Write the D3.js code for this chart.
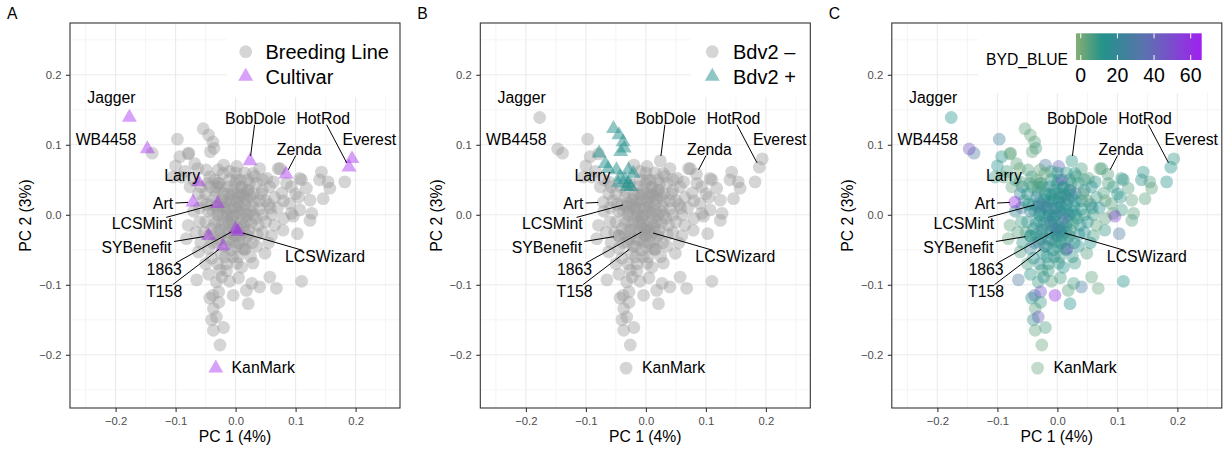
<!DOCTYPE html>
<html>
<head>
<meta charset="utf-8">
<script src="https://cdn.jsdelivr.net/npm/d3@7"></script>
<style>
  body { margin: 0; background: #ffffff; }
  svg { display: block; }
  text { font-family: "Liberation Sans", Arial, Helvetica, sans-serif; }
</style>
</head>
<body>
<svg id="fig" width="1225" height="451"></svg>
<script>
// ---------------------------------------------------------------
// PCA scores: [PC1, PC2, BYD_BLUE] for each breeding line, grouped
// by the region of the score plot they fall in.
// ---------------------------------------------------------------
const armUpperLeft = [
  [-0.139, 0.088, 30], [-0.097, 0.108, 25], [-0.093, 0.083, 12], [-0.079, 0.087, 5],
  [-0.100, 0.070, 15], [-0.104, 0.054, 8], [-0.090, 0.054, 4], [-0.084, 0.062, 6],
  [-0.076, 0.040, 3], [-0.070, 0.050, 9], [-0.058, 0.040, 14], [-0.062, 0.030, 20],
  [-0.050, 0.030, 12], [-0.079, -0.015, 3], [-0.082, -0.034, 2], [-0.070, 0.005, 18],
  [-0.060, 0.010, 28], [-0.055, 0.020, 10], [-0.020, 0.071, 30], [0.002, 0.069, 40],
  [0.002, 0.050, 8]
];
const armUpperRight = [
  [0.040, 0.066, 6], [0.029, 0.059, 12], [0.052, 0.052, 4], [0.063, 0.047, 10],
  [0.071, 0.066, 3], [0.057, 0.040, 14], [0.077, 0.031, 6], [0.093, 0.040, 9],
  [0.110, 0.050, 12], [0.118, 0.038, 5], [0.124, 0.021, 3], [0.107, 0.007, 8],
  [0.093, 0.002, 2], [0.127, 0.002, 4], [0.143, 0.061, 10], [0.140, 0.050, 14],
  [0.154, 0.047, 6], [0.157, 0.038, 3], [0.146, 0.023, 4], [0.182, 0.047, 13],
  [0.045, 0.035, 16], [0.065, 0.025, 8], [0.080, 0.020, 2], [0.090, 0.016, 5],
  [0.100, 0.030, 11], [0.070, 0.010, 15], [0.055, 0.015, 18], [0.035, 0.045, 9],
  [0.020, 0.050, 13], [0.030, 0.030, 28], [0.040, 0.020, 12], [0.060, 0.000, 7],
  [0.080, -0.005, 4], [0.105, 0.025, 10], [0.085, 0.045, 6], [0.096, -0.002, 52],
  [0.021, 0.035, 45], [0.074, 0.066, 5], [0.107, 0.052, 8]
];
const armLowerRight = [
  [0.124, -0.008, 5], [0.103, -0.027, 30], [0.079, -0.022, 9], [0.065, -0.015, 3],
  [0.050, -0.010, 12], [0.060, -0.030, 6], [0.045, -0.025, 15], [0.049, -0.055, 4],
  [0.029, -0.069, 8], [0.035, -0.045, 14], [0.057, -0.089, 3], [0.068, -0.105, 2],
  [0.110, -0.095, 12], [0.040, -0.103, 28], [0.027, -0.098, 6], [0.018, -0.108, 4],
  [0.021, -0.127, 12], [0.025, -0.060, 10], [0.015, -0.050, 14], [0.016, -0.048, 55]
];
const armLower = [
  [-0.062, -0.053, 5], [-0.065, -0.093, 30], [-0.043, -0.119, 12], [-0.037, -0.134, 4],
  [-0.040, -0.150, 10], [-0.032, -0.146, 42], [-0.037, -0.165, 3], [-0.020, -0.161, 6],
  [-0.026, -0.186, 2], [-0.032, -0.096, 8], [-0.023, -0.089, 14], [-0.004, -0.115, 60],
  [0.002, -0.069, 10], [-0.026, -0.079, 5], [-0.040, -0.062, 12], [-0.030, -0.070, 16],
  [-0.015, -0.080, 9], [-0.010, -0.095, 4], [-0.028, -0.110, 45], [0.005, -0.090, 7],
  [-0.045, -0.085, 11], [-0.038, -0.115, 33], [-0.028, -0.125, 8], [0.010, -0.075, 13],
  [-0.005, -0.060, 16], [-0.050, -0.070, 6], [-0.031, -0.039, 40], [-0.015, -0.070, 10]
];
const core = [
  [-0.050, -0.010, 14], [-0.045, 0.005, 18], [-0.040, -0.020, 10], [-0.035, 0.025, 22],
  [-0.030, 0.000, 12], [-0.028, -0.035, 8], [-0.025, 0.015, 26], [-0.022, -0.012, 16],
  [-0.020, 0.030, 11], [-0.018, -0.045, 9], [-0.015, 0.005, 20], [-0.012, -0.025, 13],
  [-0.010, 0.018, 30], [-0.008, -0.005, 15], [-0.005, 0.035, 12], [-0.003, -0.038, 7],
  [0.000, 0.010, 22], [0.002, -0.018, 14], [0.005, 0.025, 42], [0.008, -0.030, 11],
  [0.010, 0.002, 26], [0.012, -0.048, 9], [0.015, 0.015, 16], [0.018, -0.010, 12],
  [0.020, 0.035, 10], [0.022, -0.022, 6], [0.025, 0.005, 20], [0.028, -0.040, 12],
  [0.030, 0.020, 14], [0.033, -0.005, 8], [0.036, -0.028, 15], [0.040, 0.008, 11],
  [0.043, 0.030, 5], [-0.042, 0.040, 9], [-0.038, -0.040, 15], [-0.033, 0.012, 38],
  [-0.027, 0.045, 13], [-0.017, -0.060, 10], [-0.013, 0.040, 18], [-0.007, -0.050, 12],
  [0.000, 0.045, 14], [0.007, 0.050, 48], [0.013, 0.028, 13], [0.017, -0.035, 18],
  [0.023, 0.045, 8], [-0.048, 0.015, 12], [-0.052, -0.025, 7], [-0.058, -0.040, 10],
  [-0.045, -0.048, 22], [-0.024, -0.055, 14], [-0.010, -0.035, 30], [0.004, -0.060, 9],
  [0.020, 0.000, 16], [0.028, 0.012, 12], [-0.002, 0.000, 24], [-0.020, -0.002, 17],
  [-0.035, -0.012, 14], [-0.016, 0.020, 11], [0.006, 0.012, 20], [0.014, -0.015, 13],
  [-0.006, 0.022, 15], [-0.026, -0.022, 28], [0.032, 0.055, 6], [0.045, 0.000, 10],
  [0.050, 0.020, 4], [0.055, -0.040, 12], [0.038, -0.015, 15], [-0.032, 0.032, 14],
  [-0.060, -0.010, 8], [-0.066, -0.025, 5], [0.010, 0.040, 14], [-0.010, 0.050, 10],
  [0.045, 0.050, 8], [0.058, 0.010, 12], [-0.005, -0.020, 20], [0.012, -0.005, 36],
  [-0.038, 0.005, 16], [0.003, 0.030, 17],
  [-0.030, -0.010, 12], [-0.025, -0.028, 18], [-0.018, 0.010, 14], [-0.012, -0.010, 22],
  [-0.008, 0.028, 10], [-0.002, -0.028, 16], [0.004, 0.005, 13], [0.008, -0.012, 25],
  [0.012, 0.020, 11], [0.016, 0.005, 15], [0.020, -0.030, 9], [0.024, 0.028, 12],
  [-0.022, 0.022, 16], [-0.015, -0.035, 13], [-0.005, 0.010, 19], [0.000, -0.045, 11],
  [0.006, -0.040, 14], [0.010, 0.030, 9], [-0.028, 0.005, 15], [-0.010, -0.015, 32],
  [0.002, 0.018, 12], [0.015, -0.025, 17], [-0.018, -0.020, 10], [-0.040, 0.015, 13],
  [0.026, -0.012, 8], [-0.004, -0.010, 14], [0.018, 0.022, 20], [-0.012, 0.030, 12],
  [-0.020, 0.012, 26], [0.000, -0.030, 10], [0.008, 0.038, 15], [-0.035, -0.028, 11],
  [0.030, 0.000, 13], [-0.045, -0.030, 9], [0.000, 0.060, 12], [-0.010, 0.062, 8],
  [0.015, 0.060, 10], [-0.006, -0.002, 18], [0.006, -0.022, 12], [-0.014, 0.000, 16]
];
// Breeding lines carrying Bdv2 (+)
const bdv2Positive = [
  [-0.054, 0.123, 3], [-0.045, 0.114, 2], [-0.038, 0.104, 4], [-0.036, 0.095, 6],
  [-0.042, 0.090, 3], [-0.078, 0.088, 2], [-0.068, 0.073, 4], [-0.063, 0.066, 1],
  [-0.049, 0.064, 5], [-0.029, 0.064, 3], [-0.043, 0.054, 7], [-0.035, 0.050, 2],
  [-0.029, 0.045, 4], [-0.046, 0.045, 6], [-0.021, 0.059, 3], [-0.032, 0.040, 5],
  [-0.025, 0.040, 8]
];
// Named cultivars
const cultivarNames = ["Jagger", "WB4458", "BobDole", "HotRod", "Everest", "Zenda", "Larry",
  "Art", "LCSMint", "SYBenefit", "1863", "T158", "LCSWizard", "KanMark"];
const cultivarPC1 = [-0.177, -0.147, 0.024, 0.189, 0.194, 0.084, -0.062,
  -0.071, -0.030, -0.045, 0.000, -0.021, 0.004, -0.033];
const cultivarPC2 = [0.139, 0.094, 0.077, 0.068, 0.080, 0.058, 0.047,
  0.018, 0.016, -0.030, -0.021, -0.045, -0.024, -0.219];
const cultivarBYD = [12, 45, 10, 12, 9, 5, 4, 62, 20, 15, 25, 18, 22, 2];

const axisTicks = [-0.2, -0.1, 0, 0.1, 0.2];
const minorTicks = [-0.25, -0.15, -0.05, 0.05, 0.15, 0.25];
const colorbarTicks = [0, 20, 40, 60];
const pcDomain = [-0.276, 0.274];
const bydDomain = [-2.6, 66];

// ---------------------------------------------------------------
// Records
// ---------------------------------------------------------------
const toRec = (bdv2) => r => ({ pc1: r[0], pc2: r[1], byd: r[2], bdv2, cultivar: false });
const breeding = [...armUpperLeft, ...armUpperRight, ...armLowerRight, ...armLower, ...core].map(toRec(false));
const bdvPlus = bdv2Positive.map(toRec(true));
const cultivars = cultivarNames.map((n, i) => ({
  name: n, pc1: cultivarPC1[i], pc2: cultivarPC2[i], byd: cultivarBYD[i], bdv2: false, cultivar: true
}));

// Text placement of the cultivar labels (data units, label centre) and whether a leader is drawn
const labelPlacement = {
  "Jagger":    [-0.207, 0.167, false],
  "WB4458":    [-0.216, 0.107, false],
  "BobDole":   [0.033, 0.138, true],
  "HotRod":    [0.146, 0.138, true],
  "Everest":   [0.223, 0.107, false],
  "Zenda":     [0.106, 0.094, true],
  "Larry":     [-0.089, 0.056, false],
  "Art":       [-0.121, 0.016, true],
  "LCSMint":   [-0.156, -0.013, true],
  "SYBenefit": [-0.165, -0.047, true],
  "1863":      [-0.119, -0.078, true],
  "T158":      [-0.119, -0.109, true],
  "LCSWizard": [0.149, -0.060, true],
  "KanMark":   [0.046, -0.218, false]
};

// ---------------------------------------------------------------
// Layout and styles
// ---------------------------------------------------------------
const svg = d3.select("#fig");
const PW = 330, TOP = 23, BOTTOM = 408;
const panels = [
  { id: "A", x0: 70 },
  { id: "B", x0: 480.3 },
  { id: "C", x0: 891.8 }
];
const R = 6.4;
const TRI = 97;
const greyFill = "#9a9a9a", greyAlpha = 0.42;
const purple = "#A020F0", purpleAlpha = 0.42;
const teal = "#21908C", tealAlpha = 0.5;
const bydColor = d3.scaleLinear()
  .domain([-2.6, 12, 35, 66])
  .range(["#86AE74", "#22928A", "#5B73AE", "#A020F0"])
  .interpolate(d3.interpolateRgb);
const triPath = d3.symbol(d3.symbolTriangle, TRI)();
const fmt = d3.format(".1f");

const defs = svg.append("defs");

panels.forEach(p => {
  const x = d3.scaleLinear().domain(pcDomain).range([p.x0, p.x0 + PW]);
  const y = d3.scaleLinear().domain(pcDomain).range([BOTTOM, TOP]);
  const g = svg.append("g");

  // background grid
  const grid = g.append("g");
  minorTicks.forEach(v => {
    grid.append("line").attr("x1", x(v)).attr("x2", x(v)).attr("y1", TOP).attr("y2", BOTTOM)
      .attr("stroke", "#EBEBEB").attr("stroke-width", 0.55);
    grid.append("line").attr("y1", y(v)).attr("y2", y(v)).attr("x1", p.x0).attr("x2", p.x0 + PW)
      .attr("stroke", "#EBEBEB").attr("stroke-width", 0.55);
  });
  axisTicks.forEach(v => {
    grid.append("line").attr("x1", x(v)).attr("x2", x(v)).attr("y1", TOP).attr("y2", BOTTOM)
      .attr("stroke", "#EBEBEB").attr("stroke-width", 1.1);
    grid.append("line").attr("y1", y(v)).attr("y2", y(v)).attr("x1", p.x0).attr("x2", p.x0 + PW)
      .attr("stroke", "#EBEBEB").attr("stroke-width", 1.1);
  });

  // legend backgrounds sit over the grid, under the points
  const legend = g.append("g");
  const marks = g.append("g");

  const circles = (data, fill, alpha) => marks.append("g").selectAll("circle").data(data).join("circle")
    .attr("cx", d => x(d.pc1)).attr("cy", d => y(d.pc2)).attr("r", R)
    .attr("fill", fill).attr("fill-opacity", alpha);
  const triangles = (data, fill, alpha) => marks.append("g").selectAll("path").data(data).join("path")
    .attr("d", triPath)
    .attr("transform", d => `translate(${x(d.pc1)},${y(d.pc2)})`)
    .attr("fill", fill).attr("fill-opacity", alpha);

  if (p.id === "A") {
    legend.append("rect").attr("x", 227).attr("y", TOP + 1).attr("width", 172).attr("height", 73).attr("fill", "#fff");
    circles([...breeding, ...bdvPlus], greyFill, greyAlpha);
    triangles(cultivars, purple, purpleAlpha);
    legend.append("circle").attr("cx", 245.7).attr("cy", 51.7).attr("r", R).attr("fill", greyFill).attr("fill-opacity", greyAlpha);
    legend.append("path").attr("d", triPath).attr("transform", "translate(245.7,76.5)").attr("fill", purple).attr("fill-opacity", purpleAlpha);
    legend.append("text").attr("x", 265.5).attr("y", 59).attr("font-size", 20).text("Breeding Line");
    legend.append("text").attr("x", 265.5).attr("y", 83.5).attr("font-size", 20).text("Cultivar");
  } else if (p.id === "B") {
    legend.append("rect").attr("x", 691).attr("y", TOP + 1).attr("width", 118).attr("height", 73).attr("fill", "#fff");
    circles([...breeding, ...cultivars], greyFill, greyAlpha);
    triangles(bdvPlus, teal, tealAlpha);
    legend.append("circle").attr("cx", 712.3).attr("cy", 51.7).attr("r", R).attr("fill", greyFill).attr("fill-opacity", greyAlpha);
    legend.append("path").attr("d", triPath).attr("transform", "translate(712.3,76.5)").attr("fill", teal).attr("fill-opacity", tealAlpha);
    legend.append("text").attr("x", 733).attr("y", 59).attr("font-size", 20).text("Bdv2 \u2013");
    legend.append("text").attr("x", 733).attr("y", 83.5).attr("font-size", 20).text("Bdv2 +");
  } else {
    legend.append("rect").attr("x", 978).attr("y", TOP + 1).attr("width", 243).attr("height", 69).attr("fill", "#fff");
    marks.append("g").selectAll("circle").data([...breeding, ...bdvPlus, ...cultivars]).join("circle")
      .attr("cx", d => x(d.pc1)).attr("cy", d => y(d.pc2)).attr("r", R)
      .attr("fill", d => bydColor(d.byd)).attr("fill-opacity", 0.4);

    // colour bar
    const cb = d3.scaleLinear().domain(bydDomain).range([1076, 1201.7]);
    const grad = defs.append("linearGradient").attr("id", "bydGrad")
      .attr("x1", "0%").attr("x2", "100%").attr("y1", "0%").attr("y2", "0%");
    d3.range(0, 21).forEach(i => {
      const v = bydDomain[0] + (bydDomain[1] - bydDomain[0]) * i / 20;
      grad.append("stop").attr("offset", `${i * 5}%`).attr("stop-color", bydColor(v));
    });
    const cbTop = 33.3, cbBot = 60;
    legend.append("rect").attr("x", cb.range()[0]).attr("y", cbTop)
      .attr("width", cb.range()[1] - cb.range()[0]).attr("height", cbBot - cbTop)
      .attr("fill", "url(#bydGrad)");
    colorbarTicks.forEach(v => {
      legend.append("line").attr("x1", cb(v)).attr("x2", cb(v)).attr("y1", cbTop).attr("y2", cbTop + 5)
        .attr("stroke", "#fff").attr("stroke-width", 1);
      legend.append("line").attr("x1", cb(v)).attr("x2", cb(v)).attr("y1", cbBot - 5).attr("y2", cbBot)
        .attr("stroke", "#fff").attr("stroke-width", 1);
      legend.append("text").attr("x", cb(v)).attr("y", 81.7).attr("text-anchor", "middle")
        .attr("font-size", 19.5).text(v);
    });
    legend.append("text").attr("x", 986).attr("y", 65).attr("font-size", 15.7).text("BYD_BLUE");
  }

  // cultivar labels with leader segments
  const labels = g.append("g");
  cultivars.forEach(c => {
    const [lx, ly, seg] = labelPlacement[c.name];
    const cx = x(lx), cy = y(ly);
    const t = labels.append("text").attr("x", cx).attr("y", cy).attr("dy", "0.35em")
      .attr("text-anchor", "middle").attr("font-size", 15.8).attr("fill", "#000").text(c.name);
    if (!seg) return;
    const bb = t.node().getBBox();
    const hw = bb.width / 2 + 2, hh = 6.5;
    const px = x(c.pc1), py = y(c.pc2);
    const dx = px - cx, dy = py - cy;
    const len = Math.hypot(dx, dy);
    const s = Math.min(Math.abs(dx) > 0 ? hw / Math.abs(dx) : Infinity, Math.abs(dy) > 0 ? hh / Math.abs(dy) : Infinity);
    const sx = cx + dx * s, sy = cy + dy * s;
    const ex = px - dx / len * 5, ey = py - dy / len * 5;
    labels.append("line").attr("x1", sx).attr("y1", sy).attr("x2", ex).attr("y2", ey)
      .attr("stroke", "#000").attr("stroke-width", 1);
  });

  // panel border
  g.append("rect").attr("x", p.x0).attr("y", TOP).attr("width", PW).attr("height", BOTTOM - TOP)
    .attr("fill", "none").attr("stroke", "#333333").attr("stroke-width", 1.1);

  // axes
  const xa = g.append("g").attr("transform", `translate(0,${BOTTOM})`)
    .call(d3.axisBottom(x).tickValues(axisTicks).tickSize(4).tickPadding(5).tickFormat(fmt));
  const ya = g.append("g").attr("transform", `translate(${p.x0},0)`)
    .call(d3.axisLeft(y).tickValues(axisTicks).tickSize(4).tickPadding(4.5).tickFormat(fmt));
  [xa, ya].forEach(a => {
    a.select(".domain").remove();
    a.selectAll(".tick line").attr("stroke", "#333333").attr("stroke-width", 1.1);
    a.selectAll(".tick text").attr("fill", "#4D4D4D").attr("font-size", 11.3)
      .attr("font-family", "Liberation Sans, Arial, sans-serif");
  });

  // axis titles and panel tag
  g.append("text").attr("x", p.x0 + PW / 2).attr("y", 441.5).attr("text-anchor", "middle")
    .attr("font-size", 15.7).text("PC 1 (4%)");
  g.append("text").attr("transform", `translate(${p.x0 - 38.7},${(TOP + BOTTOM) / 2}) rotate(-90)`)
    .attr("text-anchor", "middle").attr("font-size", 15.7).text("PC 2 (3%)");
  g.append("text").attr("x", p.x0 - 63).attr("y", 19.3).attr("font-size", 15.7).text(p.id);
});
</script>
</body>
</html>
